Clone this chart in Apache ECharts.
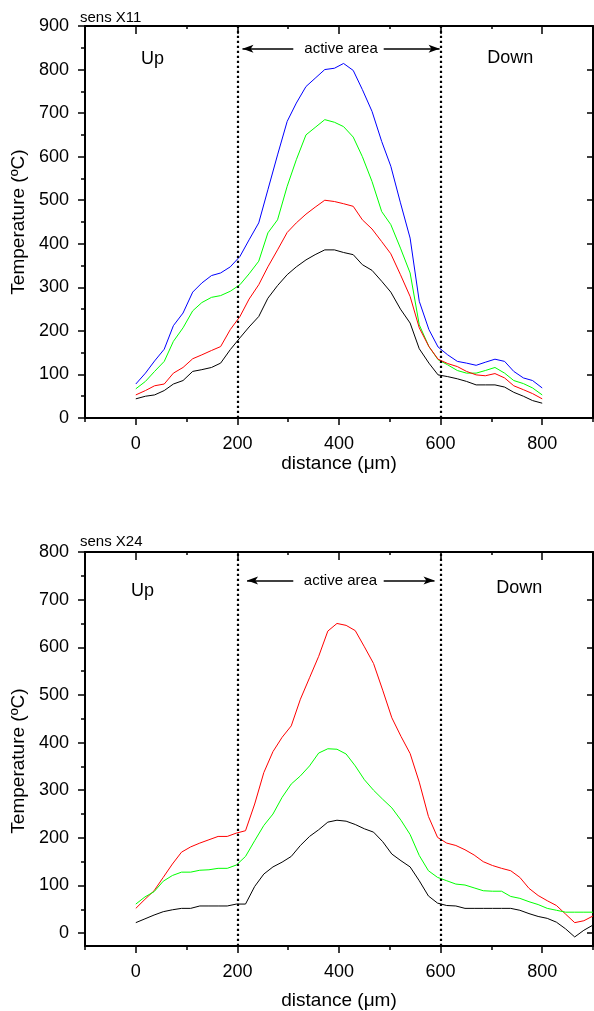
<!DOCTYPE html>
<html><head><meta charset="utf-8">
<script src="https://cdn.jsdelivr.net/npm/echarts@6/dist/echarts.min.js"></script>
<style>html,body{margin:0;padding:0;background:#fff}#c{width:594px;height:1011px}</style>
</head><body><div id="c"></div>
<script>
// ---- data ----
const xTop = [0,19,37,56,74,93,112,130,149,167,186,205,223,242,260,279,298,316,335,353,372,391,409,428,446,465,484,502,521,540,558,577,595,614,633,651,670,688,707,726,744,763,781,800];
const topBlue  = [78,103,131,158,212,241,289,310,327,333,347,371,409,448,524,604,681,723,761,780,800,803,814,798,754,704,635,578,494,413,268,203,163,145,130,126,121,128,135,130,107,92,86,69];
const topGreen = [67,84,107,130,176,207,246,265,277,281,291,306,331,360,425,455,532,593,650,667,685,679,669,645,600,543,474,444,390,333,214,164,134,122,109,103,103,109,116,103,86,79,69,53];
const topRed   = [53,63,74,78,103,116,136,145,155,164,203,233,273,306,347,386,426,448,468,484,500,497,492,486,455,434,405,377,329,279,207,164,135,125,118,107,99,97,102,92,74,65,56,44];
const topBlack = [44,50,53,63,78,86,107,111,116,126,157,184,209,233,275,304,329,347,363,375,386,386,380,375,352,339,314,289,250,218,159,126,99,95,90,84,76,76,76,71,59,50,40,34];

const xBottom = [0,18,36,54,72,90,108,126,144,162,180,198,216,234,252,270,288,306,324,342,360,378,396,414,432,450,468,486,504,522,540,558,576,594,612,630,648,666,684,702,720,738,756,774,792,810,828,846,864,882,900];
const botRed   = [52,71,89,117,145,170,181,189,196,203,203,210,215,271,337,381,411,435,491,536,581,634,650,646,635,601,566,510,452,413,377,317,245,201,189,184,175,164,150,142,136,131,117,94,79,68,58,40,22,26,36];
const botGreen = [61,76,87,109,121,128,128,132,133,136,136,143,161,194,226,250,285,313,330,351,378,387,386,376,351,322,300,281,263,237,207,163,131,117,110,103,101,95,89,88,88,77,73,66,60,52,48,44,44,44,44];
const botBlack = [22,30,38,45,49,52,52,57,57,57,57,61,61,98,124,139,149,161,184,203,217,233,237,235,228,219,212,192,166,152,139,110,78,63,58,57,52,52,52,52,52,52,48,41,35,31,23,9,-8,6,17];

const xTicks = [0,200,400,600,800];
const xMinorTicks = [-100,100,300,500,700,900];
const yTopTicks = [0,100,200,300,400,500,600,700,800,900];
const yTopMinor = [50,150,250,350,450,550,650,750,850];
const yBotTicks = [0,100,200,300,400,500,600,700,800];
const yBotMinor = [50,150,250,350,450,550,650,750];
const regionBounds = [200,600];
const panelTitles = ['sens X11','sens X24'];
const zoneLabels = ['Up','active area','Down'];
const xTitle = 'distance (\u03bcm)';
const yTitle = 'Temperature (\u00baC)';

// ---- styling / layout ----
const FF = 'Liberation Sans, Arial, sans-serif';
const BLK = '#000';
const pairs = (xs, ys) => xs.map((x, i) => [x, ys[i]]);

const grids = [
  {left: 85, right: 1, top: 26, height: 392},
  {left: 85, right: 1, top: 552, height: 395}
];
const yRanges = [[0, 900], [-27, 800]];
const yMajor = [yTopTicks, yBotTicks];
const yMinor = [yTopMinor, yBotMinor];

const hiddenLine = {show: false, onZero: false};
const xAxes = [], yAxes = [];
for (let g = 0; g < 2; g++) {
  xAxes.push({ // bottom main
    type: 'value', gridIndex: g, position: 'bottom', min: -100, max: 900,
    axisLine: {show: true, onZero: false, lineStyle: {color: BLK, width: 2}},
    axisTick: {show: true, customValues: xTicks, length: 7, lineStyle: {color: BLK, width: 1.5}},
    axisLabel: {show: true, customValues: xTicks, color: BLK, fontSize: 18, fontFamily: FF, margin: 17},
    splitLine: {show: false},
    name: xTitle, nameLocation: 'middle', nameGap: g === 0 ? 36 : 45,
    nameTextStyle: {color: BLK, fontSize: 19, fontFamily: FF}
  });
  xAxes.push({ // bottom minor ticks
    type: 'value', gridIndex: g, position: 'bottom', min: -100, max: 900,
    axisLine: hiddenLine,
    axisTick: {show: true, customValues: xMinorTicks, length: 4, lineStyle: {color: BLK, width: 1.5}},
    axisLabel: {show: false}, splitLine: {show: false}
  });
  xAxes.push({ // top frame major
    type: 'value', gridIndex: g, position: 'top', min: -100, max: 900,
    axisLine: {show: true, onZero: false, lineStyle: {color: BLK, width: 2}},
    axisTick: {show: true, inside: true, customValues: xTicks, length: 8, lineStyle: {color: BLK, width: 1.5}},
    axisLabel: {show: false}, splitLine: {show: false}
  });
  xAxes.push({ // top frame minor
    type: 'value', gridIndex: g, position: 'top', min: -100, max: 900,
    axisLine: hiddenLine,
    axisTick: {show: true, inside: true, customValues: xMinorTicks, length: 3, lineStyle: {color: BLK, width: 1.5}},
    axisLabel: {show: false}, splitLine: {show: false}
  });

  yAxes.push({ // left main
    type: 'value', gridIndex: g, position: 'left', min: yRanges[g][0], max: yRanges[g][1],
    axisLine: {show: true, onZero: false, lineStyle: {color: BLK, width: 2}},
    axisTick: {show: true, customValues: yMajor[g], length: 7, lineStyle: {color: BLK, width: 1.5}},
    axisLabel: {show: true, customValues: yMajor[g], color: BLK, fontSize: 18, fontFamily: FF, margin: 16},
    splitLine: {show: false},
    name: yTitle, nameLocation: 'middle', nameGap: 56,
    nameTextStyle: {color: BLK, fontSize: 19, fontFamily: FF, padding: g === 0 ? [0, 0, 0, 0] : [0, 24, 0, 0]}
  });
  yAxes.push({ // left minor
    type: 'value', gridIndex: g, position: 'left', min: yRanges[g][0], max: yRanges[g][1],
    axisLine: hiddenLine,
    axisTick: {show: true, customValues: yMinor[g], length: 4, lineStyle: {color: BLK, width: 1.5}},
    axisLabel: {show: false}, splitLine: {show: false}
  });
  yAxes.push({ // right frame
    type: 'value', gridIndex: g, position: 'right', min: yRanges[g][0], max: yRanges[g][1],
    axisLine: {show: true, onZero: false, lineStyle: {color: BLK, width: 2}},
    axisTick: {show: true, inside: true, customValues: yMajor[g], length: 6, lineStyle: {color: BLK, width: 1.5}},
    axisLabel: {show: false}, splitLine: {show: false}
  });
}

function lineSeries(name, g, xs, ys, color, extra) {
  return Object.assign({
    name, type: 'line', xAxisIndex: g * 4, yAxisIndex: g * 3,
    data: pairs(xs, ys), showSymbol: false, symbol: 'none', clip: false,
    lineStyle: {color, width: 1}, itemStyle: {color}, z: 3
  }, extra || {});
}

const vLines = {
  silent: true, symbol: 'none', label: {show: false},
  lineStyle: {color: BLK, width: 2.2, type: [2.2, 2.8]},
  data: regionBounds.map(v => ({xAxis: v}))
};
function arrows(yv, leftHead, rightHead) {
  return {
    silent: true, symbol: ['none', 'arrow'], symbolSize: [6, 11], label: {show: false},
    lineStyle: {color: BLK, width: 1.5, type: 'solid'},
    data: [
      [{coord: [310, yv]}, {coord: [leftHead, yv]}],
      [{coord: [488, yv]}, {coord: [rightHead, yv]}]
    ]
  };
}
function texts(items) {
  return {
    silent: true, symbol: 'circle', symbolSize: 0,
    itemStyle: {color: 'rgba(0,0,0,0)'},
    label: {show: true, position: 'inside', formatter: '{b}', color: BLK, fontSize: 18, fontFamily: FF},
    data: items
  };
}

const series = [
  lineSeries('blue', 0, xTop, topBlue, '#0000ff'),
  lineSeries('green', 0, xTop, topGreen, '#00ff00', {
    markPoint: texts([
      {name: zoneLabels[0], coord: [33, 825]},
      {name: zoneLabels[1], coord: [404, 848], label: {fontSize: 15}},
      {name: zoneLabels[2], coord: [737, 827]}
    ])
  }),
  lineSeries('red', 0, xTop, topRed, '#ff0000', {markLine: arrows(848, 210, 598)}),
  lineSeries('black', 0, xTop, topBlack, '#000000', {markLine: vLines}),
  lineSeries('red2', 1, xBottom, botRed, '#ff0000', {markLine: arrows(740, 219, 588)}),
  lineSeries('green2', 1, xBottom, botGreen, '#00ff00', {
    markPoint: texts([
      {name: zoneLabels[0], coord: [13, 719]},
      {name: zoneLabels[1], coord: [403, 740], label: {fontSize: 15}},
      {name: zoneLabels[2], coord: [755, 725]}
    ])
  }),
  lineSeries('black2', 1, xBottom, botBlack, '#000000', {markLine: vLines})
];

const chart = echarts.init(document.getElementById('c'), null, {renderer: 'canvas'});
chart.setOption({
  animation: false,
  backgroundColor: '#fff',
  title: panelTitles.map((t, i) => ({
    text: t, left: 80, top: i === 0 ? 10 : 534, padding: 0,
    textStyle: {color: BLK, fontSize: 15, fontWeight: 'normal', fontFamily: FF}
  })),
  grid: grids,
  xAxis: xAxes,
  yAxis: yAxes,
  series
});
</script>
</body></html>
